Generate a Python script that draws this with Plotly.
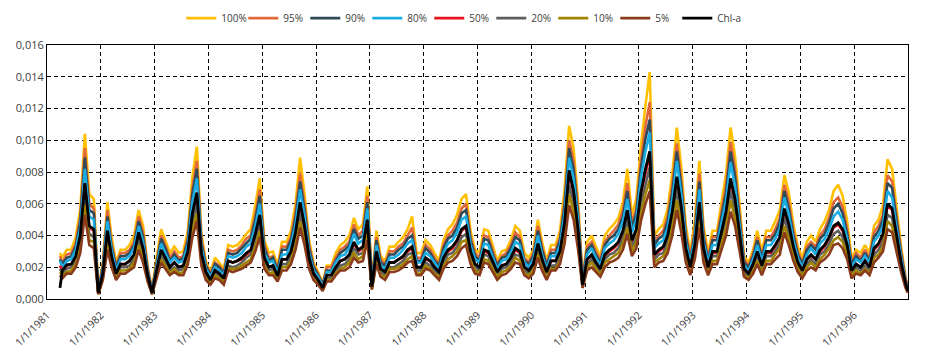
import plotly.graph_objects as go

# Dates: first observation, then mid-month samples Apr 1981 .. Dec 1996, then last day
dates = (["1981-03-30"]
         + [f"{y}-{m:02d}-15" for y in range(1981, 1997) for m in range(1, 13)
            if not (y == 1981 and m < 4)]
         + ["1996-12-31"])

# Values, in units of 0.001
chla = [
    0.7, 1.8, 2.15, 2.2, 2.7, 4.0, 7.3, 4.6, 4.4, 0.4,
    1.6, 4.3, 2.7, 1.6, 2.2, 2.2, 2.4, 2.8, 4.2, 3.2, 1.5, 0.4,
    1.8, 3.1, 2.6, 2.0, 2.3, 2.0, 2.1, 3.0, 5.4, 6.7, 2.9, 1.7,
    1.2, 1.8, 1.6, 1.3, 2.4, 2.3, 2.4, 2.6, 2.9, 3.1, 4.1, 5.3,
    2.6, 2.0, 2.1, 1.45, 2.5, 2.5, 3.0, 4.2, 6.1, 4.6, 2.6, 1.6,
    1.2, 0.7, 1.5, 1.5, 2.0, 2.4, 2.5, 2.8, 3.6, 3.1, 3.3, 5.0,
    0.8, 3.0, 1.9, 1.7, 2.3, 2.3, 2.5, 2.7, 3.1, 3.3, 2.0, 2.0,
    2.6, 2.4, 2.0, 1.7, 2.6, 3.1, 3.3, 3.7, 4.4, 4.6, 3.0, 2.2,
    2.0, 3.1, 3.0, 2.3, 1.7, 2.1, 2.2, 2.6, 3.2, 3.0, 2.0, 1.8,
    2.2, 3.5, 2.5, 1.7, 2.4, 2.4, 3.0, 4.8, 8.1, 6.8, 4.3, 0.9,
    2.5, 2.8, 2.3, 1.9, 2.8, 3.1, 3.3, 3.6, 4.3, 5.6, 3.7, 4.4,
    6.7, 8.2, 9.3, 2.8, 3.1, 3.3, 4.0, 5.5, 7.7, 5.8, 3.2, 2.0,
    3.4, 6.1, 3.2, 2.0, 3.0, 3.0, 4.3, 5.5, 7.6, 6.3, 4.1, 1.9,
    1.6, 2.2, 3.0, 2.1, 3.0, 3.0, 3.4, 3.9, 5.7, 4.7, 3.3, 2.3,
    1.8, 2.5, 2.8, 2.5, 3.1, 3.4, 3.9, 4.6, 4.8, 4.4, 3.4, 1.8,
    2.2, 2.0, 2.4, 2.0, 3.2, 3.5, 4.1, 6.0, 5.7, 4.0, 2.3, 1.0, 0.5]

p100 = [
    2.9, 2.6, 3.1, 3.1, 3.9, 5.7, 10.4, 6.6, 6.3, 0.6,
    2.3, 6.1, 3.9, 2.3, 3.1, 3.1, 3.4, 4.0, 5.6, 4.6, 2.1, 0.6,
    2.6, 4.4, 3.7, 2.9, 3.3, 2.9, 3.0, 4.3, 7.7, 9.6, 4.1, 2.4,
    1.7, 2.6, 2.3, 1.9, 3.4, 3.3, 3.4, 3.7, 4.1, 4.4, 5.9, 7.6,
    3.7, 2.9, 3.0, 2.1, 3.6, 3.6, 4.3, 6.0, 8.9, 6.6, 3.7, 2.3,
    1.7, 1.0, 2.1, 2.1, 2.9, 3.4, 3.6, 4.0, 5.1, 4.4, 4.7, 7.1,
    1.1, 4.3, 2.7, 2.4, 3.3, 3.3, 3.6, 3.9, 4.4, 5.2, 2.9, 2.9,
    3.7, 3.4, 2.9, 2.4, 3.7, 4.4, 4.7, 5.3, 6.3, 6.6, 4.3, 3.1,
    2.9, 4.4, 4.3, 3.3, 2.4, 3.0, 3.1, 3.7, 4.6, 4.3, 2.9, 2.6,
    3.1, 5.0, 3.6, 2.4, 3.4, 3.4, 4.3, 6.9, 10.9, 9.5, 6.1, 1.3,
    3.6, 4.0, 3.3, 2.7, 4.0, 4.4, 4.7, 5.1, 6.1, 8.2, 5.3, 6.3,
    9.6, 12.2, 14.3, 4.0, 4.4, 4.7, 5.7, 7.9, 10.8, 8.3, 4.6, 2.9,
    4.9, 8.7, 4.6, 2.9, 4.3, 4.3, 6.1, 7.9, 10.8, 9.0, 5.9, 2.7,
    2.3, 3.1, 4.3, 3.0, 4.3, 4.3, 4.9, 5.6, 7.8, 6.7, 4.7, 3.3,
    2.6, 3.6, 4.0, 3.6, 4.4, 4.9, 5.6, 6.8, 7.2, 6.5, 4.9, 2.6,
    3.1, 2.9, 3.4, 2.9, 4.6, 5.0, 5.9, 8.8, 8.2, 5.7, 3.3, 1.4, 0.7]

p95 = [
    2.7, 2.3, 2.8, 2.9, 3.5, 5.2, 9.5, 6.0, 5.7, 0.5,
    2.1, 5.6, 3.5, 2.1, 2.9, 2.9, 3.1, 3.6, 5.2, 4.2, 2.0, 0.5,
    2.3, 4.0, 3.4, 2.6, 3.0, 2.6, 2.7, 3.9, 7.0, 8.7, 3.8, 2.2,
    1.6, 2.3, 2.1, 1.7, 3.1, 3.0, 3.1, 3.4, 3.8, 4.0, 5.3, 6.9,
    3.4, 2.6, 2.7, 1.9, 3.3, 3.3, 3.9, 5.5, 7.9, 6.0, 3.4, 2.1,
    1.6, 0.9, 2.0, 2.0, 2.6, 3.1, 3.3, 3.6, 4.7, 4.0, 4.3, 6.5,
    1.0, 3.9, 2.5, 2.2, 3.0, 3.0, 3.3, 3.5, 4.0, 4.5, 2.6, 2.6,
    3.4, 3.1, 2.6, 2.2, 3.4, 4.0, 4.3, 4.8, 5.7, 6.0, 3.9, 2.9,
    2.6, 4.0, 3.9, 3.0, 2.2, 2.7, 2.9, 3.4, 4.2, 3.9, 2.6, 2.3,
    2.9, 4.6, 3.3, 2.2, 3.1, 3.1, 3.9, 6.2, 10.0, 8.7, 5.6, 1.2,
    3.3, 3.6, 3.0, 2.5, 3.6, 4.0, 4.3, 4.7, 5.6, 7.3, 4.8, 5.7,
    8.7, 10.9, 12.4, 3.6, 4.0, 4.3, 5.2, 7.2, 9.8, 7.5, 4.2, 2.6,
    4.4, 7.9, 4.2, 2.6, 3.9, 3.9, 5.6, 7.2, 9.9, 8.2, 5.3, 2.5,
    2.1, 2.9, 3.9, 2.7, 3.9, 3.9, 4.4, 5.1, 7.2, 6.1, 4.3, 3.0,
    2.3, 3.3, 3.6, 3.3, 4.0, 4.4, 5.1, 6.1, 6.4, 5.8, 4.4, 2.3,
    2.9, 2.6, 3.1, 2.6, 4.2, 4.6, 5.3, 7.8, 7.4, 5.2, 3.0, 1.3, 0.7]

p90 = [
    2.5, 2.2, 2.6, 2.7, 3.3, 4.9, 8.9, 5.6, 5.4, 0.5,
    2.0, 5.2, 3.3, 2.0, 2.7, 2.7, 2.9, 3.4, 4.9, 3.9, 1.8, 0.5,
    2.2, 3.8, 3.2, 2.4, 2.8, 2.4, 2.6, 3.7, 6.6, 8.2, 3.5, 2.1,
    1.5, 2.2, 2.0, 1.6, 2.9, 2.8, 2.9, 3.2, 3.5, 3.8, 5.0, 6.5,
    3.2, 2.4, 2.6, 1.8, 3.1, 3.1, 3.7, 5.1, 7.4, 5.6, 3.2, 2.0,
    1.5, 0.9, 1.8, 1.8, 2.4, 2.9, 3.1, 3.4, 4.4, 3.8, 4.0, 6.1,
    1.0, 3.7, 2.3, 2.1, 2.8, 2.8, 3.1, 3.3, 3.8, 4.0, 2.4, 2.4,
    3.2, 2.9, 2.4, 2.1, 3.2, 3.8, 4.0, 4.5, 5.4, 5.6, 3.7, 2.7,
    2.4, 3.8, 3.7, 2.8, 2.1, 2.6, 2.7, 3.2, 3.9, 3.7, 2.4, 2.2,
    2.7, 4.3, 3.1, 2.1, 2.9, 2.9, 3.7, 5.9, 9.5, 8.2, 5.2, 1.1,
    3.1, 3.4, 2.8, 2.3, 3.4, 3.8, 4.0, 4.4, 5.2, 6.8, 4.5, 5.4,
    8.2, 10.1, 11.3, 3.4, 3.8, 4.0, 4.9, 6.7, 9.3, 7.1, 3.9, 2.4,
    4.1, 7.4, 3.9, 2.4, 3.7, 3.7, 5.2, 6.7, 9.3, 7.7, 5.0, 2.3,
    2.0, 2.7, 3.7, 2.6, 3.7, 3.7, 4.1, 4.8, 6.8, 5.7, 4.0, 2.8,
    2.2, 3.1, 3.4, 3.1, 3.8, 4.1, 4.8, 5.7, 6.0, 5.4, 4.1, 2.2,
    2.7, 2.4, 2.9, 2.4, 3.9, 4.3, 5.0, 7.3, 7.0, 4.9, 2.8, 1.2, 0.6]

p80 = [
    2.4, 2.0, 2.4, 2.5, 3.1, 4.5, 8.2, 5.2, 5.0, 0.5,
    1.8, 4.9, 3.1, 1.8, 2.5, 2.5, 2.7, 3.2, 4.6, 3.6, 1.7, 0.5,
    2.0, 3.5, 2.9, 2.3, 2.6, 2.3, 2.4, 3.4, 6.1, 7.6, 3.3, 1.9,
    1.4, 2.0, 1.8, 1.5, 2.7, 2.6, 2.7, 2.9, 3.3, 3.5, 4.6, 6.0,
    2.9, 2.3, 2.4, 1.6, 2.8, 2.8, 3.4, 4.7, 6.9, 5.2, 2.9, 1.8,
    1.4, 0.8, 1.7, 1.7, 2.3, 2.7, 2.8, 3.2, 4.1, 3.5, 3.7, 5.7,
    0.9, 3.4, 2.1, 1.9, 2.6, 2.6, 2.8, 3.1, 3.5, 3.7, 2.3, 2.3,
    2.9, 2.7, 2.3, 1.9, 2.9, 3.5, 3.7, 4.2, 5.0, 5.2, 3.4, 2.5,
    2.3, 3.5, 3.4, 2.6, 1.9, 2.4, 2.5, 2.9, 3.6, 3.4, 2.3, 2.0,
    2.5, 4.0, 2.8, 1.9, 2.7, 2.7, 3.4, 5.4, 8.9, 7.6, 4.9, 1.0,
    2.8, 3.2, 2.6, 2.1, 3.2, 3.5, 3.7, 4.1, 4.9, 6.3, 4.2, 5.0,
    7.6, 9.3, 10.5, 3.2, 3.5, 3.7, 4.5, 6.2, 8.7, 6.6, 3.6, 2.3,
    3.8, 6.9, 3.6, 2.3, 3.4, 3.4, 4.9, 6.2, 8.6, 7.1, 4.6, 2.1,
    1.8, 2.5, 3.4, 2.4, 3.4, 3.4, 3.8, 4.4, 6.4, 5.3, 3.7, 2.6,
    2.0, 2.8, 3.2, 2.8, 3.5, 3.8, 4.4, 5.2, 5.5, 5.0, 3.8, 2.0,
    2.5, 2.3, 2.7, 2.3, 3.6, 4.0, 4.6, 6.8, 6.4, 4.5, 2.6, 1.1, 0.6]

p50 = [
    2.1, 1.8, 2.1, 2.2, 2.6, 3.9, 7.2, 4.5, 4.3, 0.4,
    1.6, 4.2, 2.6, 1.6, 2.2, 2.2, 2.4, 2.7, 4.1, 3.1, 1.5, 0.4,
    1.8, 3.0, 2.5, 2.0, 2.3, 2.0, 2.1, 2.9, 5.3, 6.6, 2.8, 1.7,
    1.2, 1.8, 1.6, 1.3, 2.4, 2.3, 2.4, 2.5, 2.8, 3.0, 4.0, 5.2,
    2.5, 2.0, 2.1, 1.4, 2.5, 2.5, 2.9, 4.1, 6.0, 4.5, 2.5, 1.6,
    1.2, 0.7, 1.5, 1.5, 2.0, 2.4, 2.5, 2.7, 3.5, 3.0, 3.2, 4.9,
    0.8, 2.9, 1.9, 1.7, 2.3, 2.3, 2.5, 2.6, 3.0, 3.2, 2.0, 2.0,
    2.5, 2.4, 2.0, 1.7, 2.5, 3.0, 3.2, 3.6, 4.3, 4.5, 2.9, 2.2,
    2.0, 3.0, 2.9, 2.3, 1.7, 2.1, 2.2, 2.5, 3.1, 2.9, 2.0, 1.8,
    2.2, 3.4, 2.5, 1.7, 2.4, 2.4, 2.9, 4.7, 7.9, 6.7, 4.2, 0.9,
    2.5, 2.7, 2.3, 1.9, 2.7, 3.0, 3.2, 3.5, 4.2, 5.5, 3.6, 4.3,
    6.6, 8.0, 9.1, 2.7, 3.0, 3.2, 3.9, 5.4, 7.5, 5.7, 3.1, 2.0,
    3.3, 6.0, 3.1, 2.0, 2.9, 2.9, 4.2, 5.4, 7.4, 6.2, 4.0, 1.9,
    1.6, 2.2, 2.9, 2.1, 2.9, 2.9, 3.3, 3.8, 5.6, 4.6, 3.2, 2.3,
    1.8, 2.5, 2.7, 2.5, 3.0, 3.3, 3.8, 4.5, 4.7, 4.3, 3.3, 1.8,
    2.2, 2.0, 2.4, 2.0, 3.1, 3.4, 4.0, 5.9, 5.6, 3.9, 2.3, 1.0, 0.5]

p20 = [
    1.9, 1.6, 1.9, 2.0, 2.4, 3.6, 6.5, 4.1, 3.9, 0.4,
    1.4, 3.8, 2.4, 1.4, 2.0, 2.0, 2.1, 2.5, 3.7, 2.8, 1.3, 0.4,
    1.6, 2.8, 2.3, 1.8, 2.0, 1.8, 1.9, 2.7, 4.8, 6.0, 2.6, 1.5,
    1.1, 1.6, 1.4, 1.2, 2.1, 2.0, 2.1, 2.3, 2.6, 2.8, 3.6, 4.7,
    2.3, 1.8, 1.9, 1.3, 2.2, 2.2, 2.7, 3.7, 5.4, 4.1, 2.3, 1.4,
    1.1, 0.6, 1.3, 1.3, 1.8, 2.1, 2.2, 2.5, 3.2, 2.8, 2.9, 4.5,
    0.7, 2.7, 1.7, 1.5, 2.0, 2.0, 2.2, 2.4, 2.8, 2.9, 1.8, 1.8,
    2.3, 2.1, 1.8, 1.5, 2.3, 2.8, 2.9, 3.3, 3.9, 4.1, 2.7, 2.0,
    1.8, 2.8, 2.7, 2.0, 1.5, 1.9, 2.0, 2.3, 2.8, 2.7, 1.8, 1.6,
    2.0, 3.1, 2.2, 1.5, 2.1, 2.1, 2.7, 4.3, 7.2, 6.1, 3.8, 0.8,
    2.2, 2.5, 2.0, 1.7, 2.5, 2.8, 2.9, 3.2, 3.8, 5.0, 3.3, 3.9,
    6.0, 7.3, 8.3, 2.5, 2.8, 2.9, 3.6, 4.9, 6.9, 5.2, 2.8, 1.8,
    3.0, 5.4, 2.8, 1.8, 2.7, 2.7, 3.8, 4.9, 6.8, 5.6, 3.6, 1.7,
    1.4, 2.0, 2.7, 1.9, 2.7, 2.7, 3.0, 3.5, 5.1, 4.2, 2.9, 2.0,
    1.6, 2.2, 2.5, 2.2, 2.8, 3.0, 3.5, 4.1, 4.3, 3.9, 3.0, 1.6,
    2.0, 1.8, 2.1, 1.8, 2.8, 3.1, 3.6, 5.3, 5.1, 3.6, 2.0, 0.9, 0.4]

p10 = [
    1.7, 1.5, 1.7, 1.8, 2.2, 3.2, 5.9, 3.7, 3.6, 0.3,
    1.3, 3.5, 2.2, 1.3, 1.8, 1.8, 1.9, 2.3, 3.4, 2.6, 1.2, 0.3,
    1.5, 2.5, 2.1, 1.6, 1.9, 1.6, 1.7, 2.4, 4.4, 5.4, 2.3, 1.4,
    1.0, 1.5, 1.3, 1.1, 1.9, 1.9, 1.9, 2.1, 2.3, 2.5, 3.3, 4.3,
    2.1, 1.6, 1.7, 1.2, 2.0, 2.0, 2.4, 3.4, 4.9, 3.7, 2.1, 1.3,
    1.0, 0.6, 1.2, 1.2, 1.6, 1.9, 2.0, 2.3, 2.9, 2.5, 2.7, 4.1,
    0.6, 2.4, 1.5, 1.4, 1.9, 1.9, 2.0, 2.2, 2.5, 2.7, 1.6, 1.6,
    2.1, 1.9, 1.6, 1.4, 2.1, 2.5, 2.7, 3.0, 3.6, 3.7, 2.4, 1.8,
    1.6, 2.5, 2.4, 1.9, 1.4, 1.7, 1.8, 2.1, 2.6, 2.4, 1.6, 1.5,
    1.8, 2.8, 2.0, 1.4, 1.9, 1.9, 2.4, 3.9, 6.6, 5.5, 3.5, 0.7,
    2.0, 2.3, 1.9, 1.5, 2.3, 2.5, 2.7, 2.9, 3.5, 4.5, 3.0, 3.6,
    5.4, 6.6, 7.5, 2.3, 2.5, 2.7, 3.2, 4.5, 6.2, 4.7, 2.6, 1.6,
    2.8, 4.9, 2.6, 1.6, 2.4, 2.4, 3.5, 4.5, 6.2, 5.1, 3.3, 1.5,
    1.3, 1.8, 2.4, 1.7, 2.4, 2.4, 2.8, 3.2, 4.6, 3.8, 2.7, 1.9,
    1.5, 2.0, 2.3, 2.0, 2.5, 2.8, 3.2, 3.7, 3.9, 3.6, 2.8, 1.5,
    1.8, 1.6, 1.9, 1.6, 2.6, 2.8, 3.3, 4.9, 4.6, 3.2, 1.9, 0.8, 0.4]

p5 = [
    1.5, 1.3, 1.6, 1.6, 2.0, 2.9, 5.3, 3.4, 3.2, 0.3,
    1.2, 3.1, 2.0, 1.2, 1.6, 1.6, 1.8, 2.0, 3.1, 2.3, 1.1, 0.3,
    1.3, 2.3, 1.9, 1.5, 1.7, 1.5, 1.5, 2.2, 3.9, 4.9, 2.1, 1.2,
    0.9, 1.3, 1.2, 0.9, 1.8, 1.7, 1.8, 1.9, 2.1, 2.3, 3.0, 3.9,
    1.9, 1.5, 1.5, 1.1, 1.8, 1.8, 2.2, 3.1, 4.5, 3.4, 1.9, 1.2,
    0.9, 0.5, 1.1, 1.1, 1.5, 1.8, 1.8, 2.0, 2.6, 2.3, 2.4, 3.7,
    0.6, 2.2, 1.4, 1.2, 1.7, 1.7, 1.8, 2.0, 2.3, 2.4, 1.5, 1.5,
    1.9, 1.8, 1.5, 1.2, 1.9, 2.3, 2.4, 2.7, 3.2, 3.4, 2.2, 1.6,
    1.5, 2.3, 2.2, 1.7, 1.2, 1.5, 1.6, 1.9, 2.3, 2.2, 1.5, 1.3,
    1.6, 2.6, 1.8, 1.2, 1.8, 1.8, 2.2, 3.5, 5.9, 5.0, 3.1, 0.7,
    1.8, 2.0, 1.7, 1.4, 2.0, 2.3, 2.4, 2.6, 3.1, 4.1, 2.7, 3.2,
    4.9, 6.0, 6.8, 2.0, 2.3, 2.4, 2.9, 4.0, 5.6, 4.2, 2.3, 1.5,
    2.5, 4.5, 2.3, 1.5, 2.2, 2.2, 3.1, 4.0, 5.5, 4.6, 3.0, 1.4,
    1.2, 1.6, 2.2, 1.5, 2.2, 2.2, 2.5, 2.8, 4.2, 3.4, 2.4, 1.7,
    1.3, 1.8, 2.0, 1.8, 2.3, 2.5, 2.8, 3.4, 3.5, 3.2, 2.5, 1.3,
    1.6, 1.5, 1.8, 1.5, 2.3, 2.6, 3.0, 4.4, 4.2, 2.9, 1.7, 0.7, 0.4]

series_names = ["100%", "95%", "90%", "80%", "50%", "20%", "10%", "5%", "Chl-a"]
series_values = [p100, p95, p90, p80, p50, p20, p10, p5, chla]
series_colors = ["#FFC000", "#E0683A", "#2E4B57", "#1AADE4", "#E8141C",
                 "#5E5E5E", "#A38400", "#8A3B1C", "#000000"]

year_ticks = [f"{y}-01-01" for y in range(1981, 1997)]
year_labels = [f"1/1/{y}" for y in range(1981, 1997)]

fig = go.Figure()
for name, vals, col in zip(series_names, series_values, series_colors):
    fig.add_trace(go.Scatter(
        x=dates, y=[v / 1000 for v in vals], mode="lines", name=name,
        line=dict(color=col, width=2.6 if name != "Chl-a" else 2.8),
    ))
# empty spacer entry so the last legend label is not clipped
fig.add_trace(go.Scatter(x=[None], y=[None], mode="lines", name=" ",
                         line=dict(color="rgba(0,0,0,0)", width=0),
                         showlegend=True, hoverinfo="skip"))

font = "Open Sans, Noto Sans, sans-serif"
# the page body adds an 8px offset, so the figure is sized to fit inside it
fig.update_layout(
    width=918, height=343,
    margin=dict(l=39, r=18, t=37, b=52, autoexpand=False),
    paper_bgcolor="white", plot_bgcolor="white",
    separators=", ",
    font=dict(family=font, size=11, color="#404040"),
    showlegend=True,
    legend=dict(orientation="h", x=0.516, xanchor="center", y=1.106, yanchor="middle",
                font=dict(size=10, color="#404040"), itemwidth=30,
                entrywidth=17, entrywidthmode="pixels",
                bgcolor="rgba(0,0,0,0)", borderwidth=0),
)
fig.update_xaxes(
    type="date", range=["1981-01-01", "1997-01-01"],
    tickmode="array", tickvals=year_ticks, ticktext=year_labels, tickangle=-45,
    showgrid=True, gridcolor="black", gridwidth=1, griddash="4px,3px",
    showline=True, linecolor="black", linewidth=1, mirror=True,
    ticks="", ticklabelstandoff=5, tickfont=dict(size=10.5, color="#404040"),
    zeroline=False, automargin=False,
)
fig.update_yaxes(
    range=[0, 0.016], dtick=0.002, tick0=0, tickformat=".3f",
    showgrid=True, gridcolor="black", gridwidth=1, griddash="4px,3px",
    showline=True, linecolor="black", linewidth=1, mirror=True,
    ticks="", tickfont=dict(size=11, color="#404040"), zeroline=False,
    automargin=False,
)

fig.write_html("out.html")
